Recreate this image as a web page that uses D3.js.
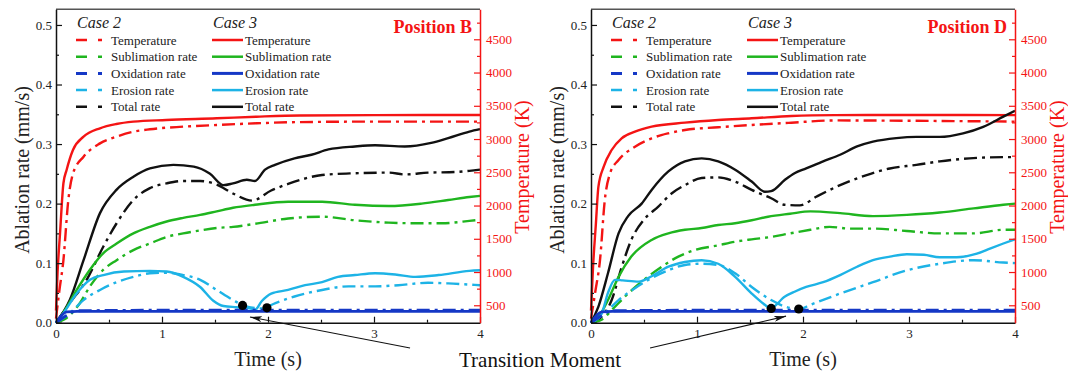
<!DOCTYPE html>
<html>
<head>
<meta charset="utf-8">
<script src="https://cdn.jsdelivr.net/npm/d3@7"></script>
<style>
  body { margin: 0; background: #fff; }
  svg { display: block; }
  svg text { font-family: "Liberation Serif", "Times New Roman", serif; }
</style>
</head>
<body>
<div id="chart"></div>
<script>
// ---- data (time in s, rate in mm/s, temperature in K) ----
const xTicks = [0, 1, 2, 3, 4];
const rateTicks = [0, 0.1, 0.2, 0.3, 0.4, 0.5];
const tempTicks = [500, 1000, 1500, 2000, 2500, 3000, 3500, 4000, 4500];
const seriesNames = ["Temperature", "Sublimation rate", "Oxidation rate", "Erosion rate", "Total rate"];
const caseNames = ["Case 2", "Case 3"];
const panelTitles = ["Position B", "Position D"];

// Position B
const bTemp2 = [[0,300],[0.03,700],[0.07,1180],[0.116,2080],[0.16,2480],[0.26,2735],[0.415,2935],[0.57,3035],[0.73,3110],[0.886,3147],[1.2,3186],[1.516,3211],[1.89,3237],[2.3,3255],[3,3262],[4,3262]];
const bTemp3 = [[0,420],[0.015,1000],[0.038,1580],[0.07,2335],[0.1,2535],[0.16,2835],[0.26,3035],[0.415,3162],[0.57,3226],[0.73,3261],[1.04,3286],[1.516,3312],[1.89,3336],[2.3,3355],[3,3360],[4,3362]];
const bSub2 = [[0,0],[0.1,0.008],[0.226,0.033],[0.32,0.061],[0.447,0.089],[0.572,0.105],[0.73,0.122],[0.886,0.133],[1.044,0.144],[1.2,0.15],[1.36,0.155],[1.516,0.159],[1.67,0.161],[1.877,0.166],[2.19,0.175],[2.51,0.178],[2.82,0.172],[3.14,0.168],[3.39,0.167],[3.64,0.167],[3.9,0.171],[4,0.173]];
const bSub3 = [[0,0],[0.08,0.02],[0.195,0.055],[0.32,0.089],[0.447,0.117],[0.572,0.133],[0.73,0.15],[0.886,0.161],[1.044,0.17],[1.2,0.176],[1.36,0.181],[1.516,0.187],[1.67,0.193],[1.877,0.198],[2.19,0.203],[2.51,0.203],[2.82,0.198],[3.14,0.196],[3.45,0.2],[3.7,0.206],[3.9,0.211],[4,0.213]];
const bOx2 = [[0,0],[0.1,0.012],[0.2,0.02],[1,0.021],[2,0.021],[3,0.021],[4,0.021]];
const bOx3 = [[0,0],[0.1,0.018],[0.2,0.019],[2,0.019],[4,0.019]];
const bEro2 = [[0,0],[0.13,0.016],[0.26,0.038],[0.415,0.055],[0.572,0.068],[0.73,0.077],[0.886,0.083],[1.044,0.084],[1.2,0.08],[1.36,0.072],[1.516,0.055],[1.67,0.038],[1.8,0.027],[1.94,0.024],[2.07,0.033],[2.25,0.044],[2.51,0.055],[2.76,0.061],[3.01,0.061],[3.23,0.063],[3.51,0.067],[3.7,0.066],[3.9,0.064],[4,0.063]];
const bEro3 = [[0,0],[0.07,0.016],[0.195,0.049],[0.32,0.072],[0.447,0.08],[0.64,0.086],[0.886,0.087],[1.044,0.086],[1.2,0.077],[1.36,0.06],[1.484,0.037],[1.58,0.028],[1.705,0.026],[1.83,0.024],[1.88,0.022],[1.94,0.036],[2.03,0.049],[2.19,0.055],[2.35,0.063],[2.51,0.068],[2.66,0.077],[2.82,0.08],[3.01,0.083],[3.2,0.081],[3.39,0.077],[3.61,0.08],[3.9,0.087],[4,0.088]];
const bTot2 = [[0,0],[0.13,0.033],[0.289,0.072],[0.447,0.128],[0.572,0.167],[0.73,0.206],[0.886,0.226],[1.044,0.234],[1.2,0.238],[1.36,0.238],[1.516,0.232],[1.67,0.217],[1.85,0.205],[2.03,0.222],[2.19,0.233],[2.51,0.248],[2.82,0.251],[3.14,0.252],[3.29,0.249],[3.51,0.252],[3.76,0.253],[3.9,0.255],[4,0.257]];
const bTot3 = [[0,0],[0.13,0.038],[0.26,0.105],[0.415,0.184],[0.57,0.223],[0.73,0.245],[0.886,0.259],[1.107,0.265],[1.3,0.262],[1.453,0.25],[1.58,0.231],[1.67,0.234],[1.8,0.24],[1.877,0.238],[1.972,0.257],[2.066,0.265],[2.25,0.276],[2.41,0.282],[2.57,0.291],[2.82,0.296],[3.01,0.298],[3.29,0.296],[3.54,0.302],[3.7,0.31],[3.9,0.321],[4,0.325]];
const bDots = [[1.76,0.029],[1.99,0.025]];
const bArrow = [[3.34,-0.0425],[1.83,0.0096]];

// Position D
const dTemp2 = [[0,300],[0.04,700],[0.085,1180],[0.13,2080],[0.18,2485],[0.26,2685],[0.415,2885],[0.572,3011],[0.73,3086],[0.886,3136],[1.2,3177],[1.516,3211],[1.89,3246],[2.3,3280],[3,3275],[4,3262]];
const dTemp3 = [[0,420],[0.02,1100],[0.045,1700],[0.07,2283],[0.12,2584],[0.195,2835],[0.289,3011],[0.415,3110],[0.572,3186],[0.886,3246],[1.2,3286],[1.516,3312],[1.89,3347],[2.3,3360],[3,3362],[4,3360]];
const dSub2 = [[0,0],[0.1,0.005],[0.2,0.022],[0.35,0.049],[0.5,0.072],[0.667,0.094],[0.824,0.111],[0.98,0.122],[1.2,0.13],[1.36,0.136],[1.516,0.14],[1.7,0.144],[1.877,0.15],[2.07,0.156],[2.25,0.161],[2.44,0.158],[2.66,0.158],[2.98,0.154],[3.29,0.15],[3.61,0.15],[3.89,0.156],[4,0.156]];
const dSub3 = [[0,0],[0.08,0.012],[0.16,0.038],[0.26,0.077],[0.38,0.111],[0.572,0.139],[0.73,0.15],[0.886,0.156],[1.044,0.159],[1.2,0.164],[1.36,0.167],[1.516,0.172],[1.67,0.178],[1.877,0.183],[2.07,0.187],[2.35,0.184],[2.66,0.179],[2.98,0.181],[3.29,0.185],[3.61,0.192],[3.89,0.198],[4,0.2]];
const dOx2 = [[0,0],[0.1,0.012],[0.2,0.02],[1,0.021],[2,0.021],[3,0.021],[4,0.021]];
const dOx3 = [[0,0],[0.1,0.018],[0.2,0.019],[2,0.019],[4,0.019]];
const dEro2 = [[0,0],[0.13,0.016],[0.26,0.038],[0.415,0.058],[0.572,0.075],[0.73,0.088],[0.886,0.097],[1.044,0.099],[1.2,0.097],[1.36,0.083],[1.516,0.06],[1.7,0.038],[1.83,0.027],[1.97,0.023],[2.07,0.03],[2.35,0.049],[2.66,0.068],[2.98,0.088],[3.29,0.099],[3.61,0.105],[3.89,0.101],[4,0.1]];
const dEro3 = [[0,0],[0.1,0.015],[0.16,0.05],[0.226,0.072],[0.3,0.071],[0.45,0.069],[0.572,0.078],[0.73,0.094],[0.886,0.102],[1.044,0.105],[1.2,0.099],[1.36,0.077],[1.516,0.049],[1.64,0.03],[1.69,0.024],[1.83,0.044],[1.92,0.052],[2.03,0.06],[2.19,0.068],[2.35,0.08],[2.51,0.094],[2.66,0.105],[2.82,0.111],[2.98,0.115],[3.14,0.114],[3.29,0.11],[3.45,0.11],[3.64,0.116],[3.77,0.125],[3.89,0.133],[4,0.14]];
const dTot2 = [[0,0],[0.1,0.01],[0.195,0.038],[0.289,0.093],[0.38,0.139],[0.5,0.173],[0.635,0.195],[0.76,0.217],[0.886,0.231],[1.044,0.243],[1.2,0.244],[1.36,0.237],[1.516,0.223],[1.7,0.209],[1.83,0.198],[1.97,0.197],[2.13,0.212],[2.35,0.231],[2.6,0.248],[2.82,0.259],[3.07,0.265],[3.29,0.271],[3.57,0.276],[3.89,0.278],[4,0.278]];
const dTot3 = [[0,0],[0.07,0.027],[0.16,0.083],[0.26,0.15],[0.35,0.179],[0.478,0.2],[0.572,0.223],[0.73,0.254],[0.886,0.271],[1.044,0.276],[1.2,0.271],[1.36,0.257],[1.516,0.237],[1.64,0.22],[1.7,0.221],[1.83,0.24],[1.92,0.251],[2.03,0.259],[2.19,0.271],[2.35,0.282],[2.51,0.296],[2.66,0.304],[2.88,0.31],[3.07,0.312],[3.29,0.312],[3.51,0.318],[3.7,0.329],[3.89,0.346],[4,0.356]];
const dDots = [[1.70,0.024],[1.96,0.023]];
const dArrow = [[0.557,-0.0425],[1.84,0.011]];

// ---- style ----
const serif = "'Liberation Serif', 'Times New Roman', serif";
const colors = ["#f41414", "#1fb51f", "#1538c6", "#1db3e6", "#111111"];
const red = "#f41414";
const dashCase2 = "13,5,3,5";

const W = 1068, H = 376;
const plotW = 424, plotTop = 9.3, plotBottom = 322.7;
const panelX = [56, 591];

const panels = [
  { title: panelTitles[0], temp: [bTemp2, bTemp3], rates: [[bSub2, bSub3], [bOx2, bOx3], [bEro2, bEro3], [bTot2, bTot3]], dots: bDots, arrow: bArrow },
  { title: panelTitles[1], temp: [dTemp2, dTemp3], rates: [[dSub2, dSub3], [dOx2, dOx3], [dEro2, dEro3], [dTot2, dTot3]], dots: dDots, arrow: dArrow }
];

const svg = d3.select("#chart").append("svg")
  .attr("width", W).attr("height", H)
  .attr("font-family", serif);

svg.append("defs").append("marker")
  .attr("id", "arrowHead")
  .attr("viewBox", "0 0 12 6")
  .attr("refX", 12).attr("refY", 3)
  .attr("markerWidth", 12).attr("markerHeight", 6)
  .attr("markerUnits", "userSpaceOnUse")
  .attr("orient", "auto")
  .append("path")
  .attr("d", "M0,0 L12,3 L0,6 L3,3 Z")
  .attr("fill", "#111");

panels.forEach((p, pi) => {
  const x0 = panelX[pi];
  const x = d3.scaleLinear().domain([0, 4]).range([x0, x0 + plotW]);
  const y = d3.scaleLinear().domain([0, 0.5263]).range([plotBottom, plotTop]);
  const yT = d3.scaleLinear().domain([238, 4951]).range([plotBottom, plotTop]);

  const g = svg.append("g");

  // frame top
  g.append("line")
    .attr("x1", x0).attr("x2", x0 + plotW)
    .attr("y1", plotTop).attr("y2", plotTop)
    .attr("stroke", "#555").attr("stroke-width", 1.5);

  // lines
  const rateLine = d3.line().x(d => x(d[0])).y(d => y(d[1])).curve(d3.curveMonotoneX);
  const tempLine = d3.line().x(d => x(d[0])).y(d => yT(d[1])).curve(d3.curveMonotoneX);

  const curves = g.append("g").attr("fill", "none").attr("stroke-width", 2.4);
  p.temp.forEach((s, ci) => {
    curves.append("path").attr("d", tempLine(s))
      .attr("stroke", colors[0])
      .attr("stroke-dasharray", ci === 0 ? dashCase2 : null);
  });
  // draw order: total, sublimation, erosion, oxidation
  [3, 0, 2, 1].forEach(si => {
    p.rates[si].forEach((s, ci) => {
      curves.append("path").attr("d", rateLine(s))
        .attr("stroke", colors[si + 1])
        .attr("stroke-width", si === 1 ? 2.8 : 2.4)
        .attr("stroke-dasharray", ci === 0 ? dashCase2 : null);
    });
  });

  g.selectAll(".dot").data(p.dots).enter().append("circle")
    .attr("cx", d => x(d[0])).attr("cy", d => y(d[1]))
    .attr("r", 4.6).attr("fill", "#000");

  g.append("line")
    .attr("x1", x(p.arrow[0][0])).attr("y1", y(p.arrow[0][1]))
    .attr("x2", x(p.arrow[1][0])).attr("y2", y(p.arrow[1][1]))
    .attr("stroke", "#111").attr("stroke-width", 1.1)
    .attr("marker-end", "url(#arrowHead)");

  // axes
  const styleAxis = (sel, col, txtCol) => {
    sel.attr("font-family", serif).attr("font-size", 13);
    sel.select(".domain").attr("stroke", col).attr("stroke-width", 1.5);
    sel.selectAll(".tick line").attr("stroke", col).attr("stroke-width", 1.2);
    sel.selectAll("text").attr("fill", txtCol)
      .style("font-family", serif).style("font-size", "13px");
  };

  const gx = g.append("g").attr("transform", `translate(0,${plotBottom})`)
    .call(d3.axisBottom(x).tickValues(xTicks).tickFormat(d3.format("d")).tickSize(-6).tickSizeOuter(0).tickPadding(6));
  styleAxis(gx, "#111", "#222");
  const gxm = g.append("g").attr("transform", `translate(0,${plotBottom})`)
    .call(d3.axisBottom(x).tickValues([0.5, 1.5, 2.5, 3.5]).tickFormat("").tickSize(-3).tickSizeOuter(0));
  gxm.select(".domain").remove();
  gxm.selectAll(".tick line").attr("stroke", "#111").attr("stroke-width", 1.2);

  const gy = g.append("g").attr("transform", `translate(${x0},0)`)
    .call(d3.axisLeft(y).tickValues(rateTicks).tickFormat(d3.format(".1f")).tickSize(-6).tickSizeOuter(0).tickPadding(4));
  styleAxis(gy, "#111", "#222");
  const gym = g.append("g").attr("transform", `translate(${x0},0)`)
    .call(d3.axisLeft(y).tickValues([0.05, 0.15, 0.25, 0.35, 0.45]).tickFormat("").tickSize(-3).tickSizeOuter(0));
  gym.select(".domain").remove();
  gym.selectAll(".tick line").attr("stroke", "#111").attr("stroke-width", 1.2);

  const gt = g.append("g").attr("transform", `translate(${x0 + plotW},0)`)
    .call(d3.axisRight(yT).tickValues(tempTicks).tickFormat(d3.format("d")).tickSize(-6).tickSizeOuter(0).tickPadding(6));
  styleAxis(gt, red, red);
  const gtm = g.append("g").attr("transform", `translate(${x0 + plotW},0)`)
    .call(d3.axisRight(yT).tickValues([750, 1250, 1750, 2250, 2750, 3250, 3750, 4250, 4750]).tickFormat("").tickSize(-3).tickSizeOuter(0));
  gtm.select(".domain").remove();
  gtm.selectAll(".tick line").attr("stroke", red).attr("stroke-width", 1.2);

  // axis titles
  g.append("text")
    .attr("transform", `translate(${x0 - 34},${(plotTop + plotBottom) / 2 + 4}) rotate(-90)`)
    .attr("text-anchor", "middle").attr("dy", "0.35em")
    .style("font-family", serif).style("font-size", "20px").attr("fill", "#222")
    .text("Ablation rate (mm/s)");
  g.append("text")
    .attr("transform", `translate(${x0 + plotW + 42},${(plotTop + plotBottom) / 2 + 1}) rotate(-90)`)
    .attr("text-anchor", "middle").attr("dy", "0.35em")
    .style("font-family", serif).style("font-size", "20px").attr("fill", red)
    .text("Temperature (K)");
  g.append("text")
    .attr("x", x0 + plotW / 2).attr("y", 366)
    .attr("text-anchor", "middle")
    .style("font-family", serif).style("font-size", "20px").attr("fill", "#222")
    .text("Time (s)");

  g.append("text")
    .attr("x", x0 + plotW - 8).attr("y", 33)
    .attr("text-anchor", "end")
    .style("font-family", serif).style("font-size", "18px").style("font-weight", "bold").attr("fill", red)
    .text(p.title);

  // legend
  const lg = g.append("g").attr("transform", `translate(${x0},0)`);
  const colX = [[20, 46, 55], [156, 187, 189]];
  caseNames.forEach((cn, ci) => {
    lg.append("text")
      .attr("x", colX[ci][0] + 1).attr("y", 28)
      .style("font-family", serif).style("font-size", "16px").style("font-style", "italic").attr("fill", "#222")
      .text(cn);
    seriesNames.forEach((sn, si) => {
      const ry = 40 + si * 16.7;
      lg.append("line")
        .attr("x1", colX[ci][0]).attr("x2", colX[ci][1])
        .attr("y1", ry).attr("y2", ry)
        .attr("stroke", colors[si]).attr("stroke-width", si === 2 ? 3 : 2.5)
        .attr("stroke-dasharray", ci === 0 ? "11,11,4,20" : null);
      lg.append("text")
        .attr("x", colX[ci][2]).attr("y", ry).attr("dy", "0.35em")
        .style("font-family", serif).style("font-size", "13px").attr("fill", "#222")
        .text(sn);
    });
  });
});

svg.append("text")
  .attr("x", W / 2 + 6).attr("y", 367)
  .attr("text-anchor", "middle")
  .style("font-family", serif).style("font-size", "21px").attr("fill", "#111")
  .text("Transition Moment");
</script>
</body>
</html>
